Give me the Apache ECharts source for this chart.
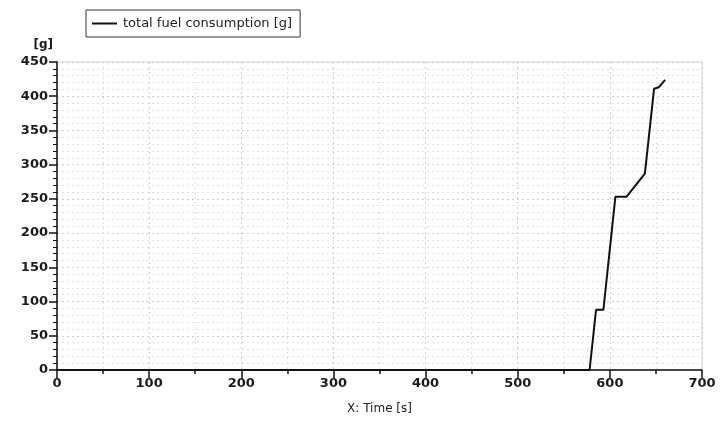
<!DOCTYPE html>
<html>
<head>
<meta charset="utf-8">
<script src="https://cdn.jsdelivr.net/npm/echarts@6/dist/echarts.min.js"></script>
<style>html,body{margin:0;padding:0;background:#fff}#c{width:720px;height:421px}</style>
</head>
<body>
<div id="c"></div>
<script>
var seriesName = 'total fuel consumption [g]';
var timeValues = [0, 578, 585, 593, 606, 618, 638, 648, 653, 660];
var fuelValues = [0, 0, 88, 88, 253, 253, 287, 411, 413, 424];
var xTicks = [0, 100, 200, 300, 400, 500, 600, 700];
var yTicks = [0, 50, 100, 150, 200, 250, 300, 350, 400, 450];

var chart = echarts.init(document.getElementById('c'));
var data = timeValues.map(function (t, i) { return [t, fuelValues[i]]; });
var font = 'DejaVu Sans';
chart.setOption({
  animation: false,
  backgroundColor: '#fff',
  textStyle: { fontFamily: font },
  grid: { left: 57, right: 18, top: 62, bottom: 51, show: true, borderColor: '#d4d4d4', borderWidth: 1 },
  legend: {
    left: 86, top: 10,
    data: [seriesName],
    icon: 'rect',
    borderColor: '#333', borderWidth: 1, borderRadius: 0,
    padding: [7, 8, 7, 6],
    itemWidth: 25, itemHeight: 2,
    itemGap: 5,
    textStyle: { fontFamily: font, fontSize: 13, color: '#222', padding: [0, 0, 0, 1] }
  },
  xAxis: {
    type: 'value', min: xTicks[0], max: xTicks[xTicks.length - 1], interval: 100,
    name: 'X: Time [s]', nameLocation: 'middle', nameGap: 33,
    nameTextStyle: { fontFamily: font, fontSize: 12, color: '#222' },
    axisLine: { show: true, onZero: false, lineStyle: { color: '#111', width: 1.5 } },
    axisTick: { show: true, length: 8, lineStyle: { color: '#111', width: 1.5 } },
    minorTick: { show: true, splitNumber: 2, length: 4, lineStyle: { color: '#111', width: 1.5 } },
    axisLabel: { fontFamily: font, fontWeight: 'bold', fontSize: 13, color: '#1a1a1a', margin: 7 },
    splitLine: { show: true, lineStyle: { color: '#cfcfcf', type: [2, 3], width: 1 } },
    minorSplitLine: { show: true, lineStyle: { color: '#e2e2e2', type: [2, 3], width: 1 } }
  },
  yAxis: {
    type: 'value', min: yTicks[0], max: yTicks[yTicks.length - 1], interval: 50,
    name: '[g]', nameLocation: 'end', nameGap: 11,
    nameTextStyle: { fontFamily: font, fontWeight: 'bold', fontSize: 12, color: '#1a1a1a', align: 'right', padding: [0, 4, 0, 0] },
    axisLine: { show: true, onZero: false, lineStyle: { color: '#111', width: 1.5 } },
    axisTick: { show: true, length: 8, lineStyle: { color: '#111', width: 1.5 } },
    minorTick: { show: true, splitNumber: 5, length: 4, lineStyle: { color: '#111', width: 1 } },
    axisLabel: { fontFamily: font, fontWeight: 'bold', fontSize: 13, color: '#1a1a1a', margin: 9 },
    splitLine: { show: true, lineStyle: { color: '#cfcfcf', type: [2, 3], width: 1 } },
    minorSplitLine: { show: true, lineStyle: { color: '#e2e2e2', type: [2, 3], width: 1 } }
  },
  series: [{
    name: seriesName,
    type: 'line',
    data: data,
    symbol: 'none',
    showSymbol: false,
    lineStyle: { color: '#111', width: 2 },
    itemStyle: { color: '#111' }
  }]
});
</script>
</body>
</html>
